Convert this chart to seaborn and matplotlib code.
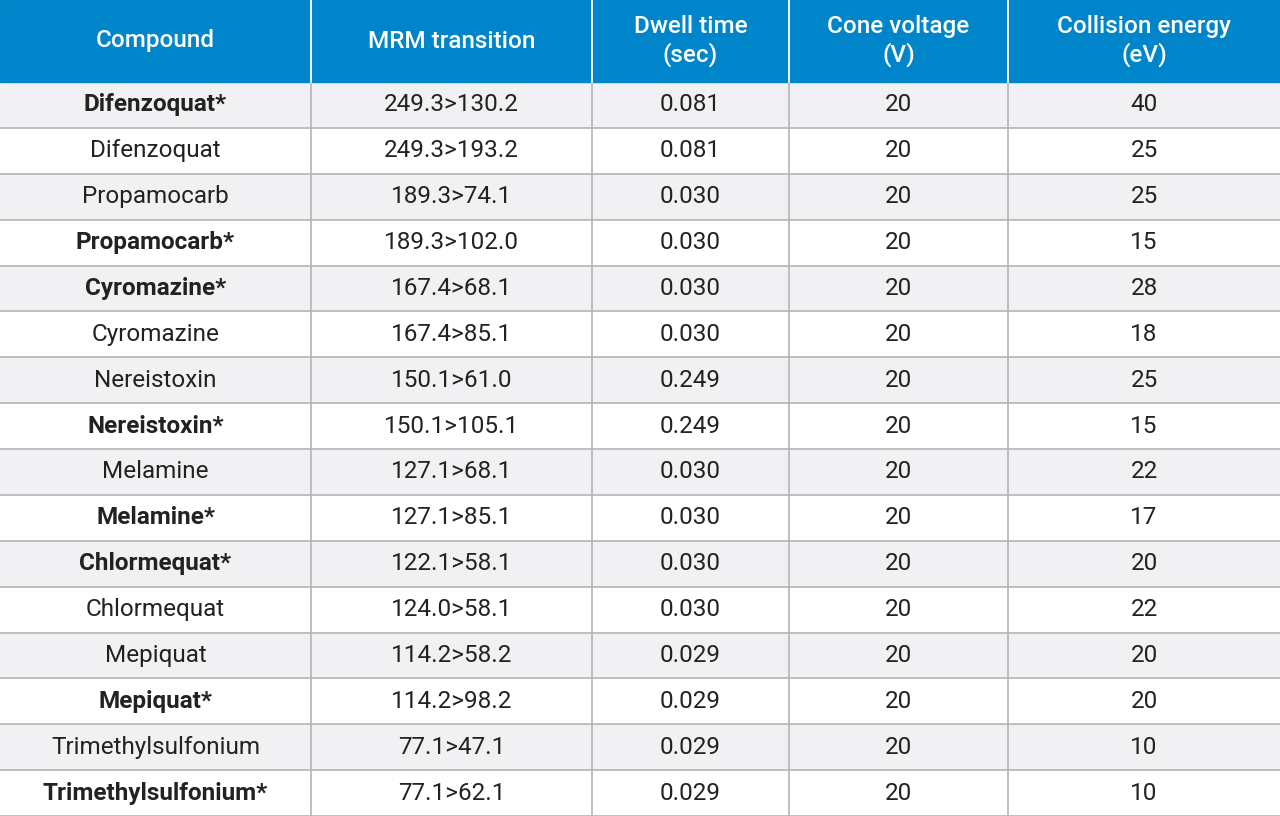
import numpy as np
import matplotlib.pyplot as plt
from matplotlib.colors import ListedColormap
import seaborn as sns

headers = ["Compound", "MRM transition", "Dwell time\n(sec)", "Cone voltage\n(V)", "Collision energy\n(eV)"]
compounds = ["Difenzoquat*", "Difenzoquat", "Propamocarb", "Propamocarb*", "Cyromazine*", "Cyromazine",
             "Nereistoxin", "Nereistoxin*", "Melamine", "Melamine*", "Chlormequat*", "Chlormequat",
             "Mepiquat", "Mepiquat*", "Trimethylsulfonium", "Trimethylsulfonium*"]
transitions = ["249.3>130.2", "249.3>193.2", "189.3>74.1", "189.3>102.0", "167.4>68.1", "167.4>85.1",
               "150.1>61.0", "150.1>105.1", "127.1>68.1", "127.1>85.1", "122.1>58.1", "124.0>58.1",
               "114.2>58.2", "114.2>98.2", "77.1>47.1", "77.1>62.1"]
dwell = ["0.081", "0.081", "0.030", "0.030", "0.030", "0.030", "0.249", "0.249",
         "0.030", "0.030", "0.030", "0.030", "0.029", "0.029", "0.029", "0.029"]
cone = [20] * 16
collision = [40, 25, 25, 15, 28, 18, 25, 15, 22, 17, 20, 22, 20, 20, 10, 10]

col_edges = [0, 311, 592, 789, 1008, 1280]
header_h = 82
W, H = 1280, 816
n = len(compounds)
row_h = (H - header_h) / n

plt.rcParams["font.family"] = "Roboto"
fig = plt.figure(figsize=(12.8, 8.16), dpi=100)
ax = fig.add_axes([0, 0, 1, 1])

# body row shading via seaborn heatmap (1 column stretched across width)
shade = np.array([[i % 2 == 0] for i in range(n)], dtype=float)
sns.heatmap(shade, ax=ax, cbar=False, cmap=ListedColormap(["#ffffff", "#f1f1f3"]),
            vmin=0, vmax=1, xticklabels=False, yticklabels=False)
ax.set_xlim(0, 1)
ax.set_ylim(n, -header_h / row_h)

def px(x):
    return x / W

ax.axhspan(-header_h / row_h, 0, color="#0085ca", zorder=1)

# grid lines
for i in range(1, n + 1):
    ax.axhline(i, color="#b4b4b8", lw=1.2, zorder=2)
for x in col_edges[1:-1]:
    ax.axvline(px(x), color="#b4b4b8", lw=1.2, zorder=2)
    ax.plot([px(x)] * 2, [-header_h / row_h, 0], color="white", lw=1.2, zorder=3)

centers = [px((a + b) / 2) for a, b in zip(col_edges[:-1], col_edges[1:])]
for c, h in zip(centers, headers):
    ax.text(c, -header_h / row_h / 2, h, color="white", fontsize=17.5, ha="center", va="center",
            fontweight="medium", linespacing=1.25, zorder=4)

for i in range(n):
    y = i + 0.5
    vals = [compounds[i], transitions[i], dwell[i], str(cone[i]), str(collision[i])]
    for j, (c, v) in enumerate(zip(centers, vals)):
        bold = j == 0 and compounds[i].endswith("*")
        ax.text(c, y, v, color="#222222", fontsize=17.5, ha="center", va="center",
                fontweight="bold" if bold else "normal", zorder=4)

ax.axis("off")
fig.savefig("out.png", dpi=100)
